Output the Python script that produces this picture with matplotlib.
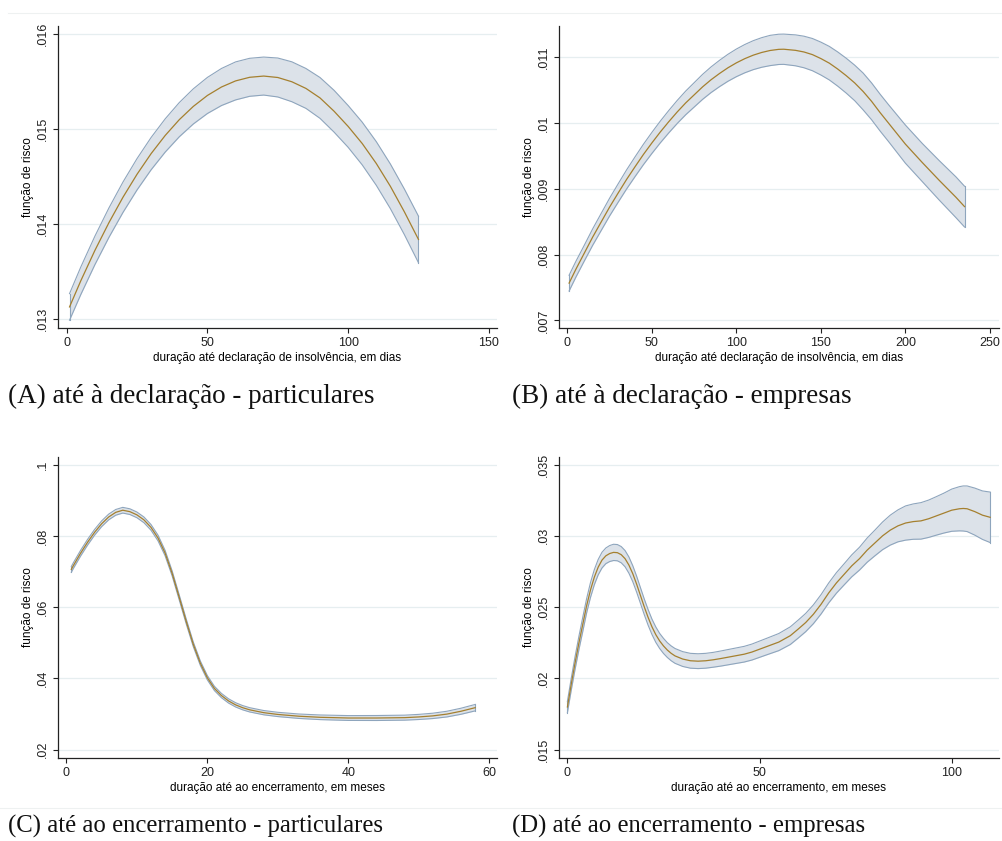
import matplotlib
matplotlib.use("Agg")
from matplotlib import pyplot as plt
from matplotlib.lines import Line2D
import numpy as np

# (A) ate a declaracao - particulares
a_x = [1, 5, 10, 15, 20, 25, 30, 35, 40, 45, 50, 55, 60, 65, 70, 75, 80, 85,
       90, 95, 100, 105, 110, 115, 120, 125]
a_mean = [.01313, .013405, .013724, .014017, .014285, .014527, .014744, .014935,
          .015101, .015241, .015356, .015445, .015509, .015547, .01556, .015545,
          .0155, .01543, .01533, .01519, .01503, .01485, .01464, .0144, .01413,
          .01384]
a_half = [.00014, .000145, .00015, .000155, .00016, .000165, .00017, .000175,
          .00018, .000185, .00019, .000195, .0002, .0002, .0002, .000205,
          .00021, .00021, .000215, .00022, .00022, .000225, .00023, .000235,
          .00024, .000245]
a_yticks = [.013, .014, .015, .016]
a_ylabels = [".013", ".014", ".015", ".016"]
a_xticks = [0, 50, 100, 150]

# (B) ate a declaracao - empresas
b_x = [1, 5, 10, 15, 20, 25, 30, 35, 40, 45, 50, 55, 60, 65, 70, 75, 80, 85,
       90, 95, 100, 105, 110, 115, 120, 125, 128, 135, 140, 145, 150, 155, 160,
       165, 170, 175, 180, 185, 190, 195, 200, 205, 210, 215, 220, 225, 230, 235]
b_mean = [.007567, .007777, .008023, .008269, .008497, .008724, .008935, .009142,
          .009335, .009523, .009698, .009865, .010021, .010169, .010306, .010428,
          .01055, .010658, .010753, .01084, .010915, .010979, .011032, .011073,
          .011103, .01112, .011122, .011105, .01108, .01104, .01098, .01091,
          .01082, .01072, .01061, .01048, .01033, .01016, .0100, .00984, .00968,
          .00954, .0094, .009265, .00913, .009, .00887, .00873]
b_half = [.00012, .00012, .00012, .000125, .00013, .000135, .00014, .000145,
          .00015, .000155, .00016, .000165, .00017, .000175, .00018, .000185,
          .00019, .000195, .0002, .000205, .00021, .000215, .00022, .000225,
          .00023, .00023, .00023, .000235, .00024, .000245, .00025, .000255,
          .00026, .000265, .00027, .00028, .00028, .00028, .00028, .000285,
          .00029, .00029, .00029, .000295, .0003, .000305, .00031, .00031]
b_yticks = [.007, .008, .009, .010, .011]
b_ylabels = [".007", ".008", ".009", ".01", ".011"]
b_xticks = [0, 50, 100, 150, 200, 250]

# (C) ate ao encerramento - particulares
c_x = [0.7, 1, 2, 3, 4, 5, 6, 7, 8, 9, 10, 11, 12, 13, 14, 15, 16, 17, 18, 19,
       20, 21, 22, 23, 24, 25, 26, 28, 30, 33, 36, 40, 44, 48, 50, 52, 54, 56, 58]
c_mean = [.0706, .0717, .0751, .0782, .0810, .0834, .0853, .0866, .0872, .0868,
          .0859, .0845, .0824, .0794, .0752, .0695, .0628, .0560, .0496, .0443,
          .0402, .0372, .0352, .0337, .0326, .0318, .0312, .0304, .0299, .0294,
          .0291, .0289, .0289, .0290, .0292, .0295, .0300, .0308, .0318]
c_half = [.0008, .0008, .0008, .0008, .0008, .0008, .0008, .0008, .0008, .0008,
          .0008, .0008, .0008, .0008, .00075, .0007, .0007, .00068, .00065,
          .00062, .0006, .0006, .0006, .0006, .0006, .0006, .0006, .0006, .0006,
          .00062, .00065, .00068, .0007, .0007, .00072, .00075, .0008, .00085,
          .0009]
c_yticks = [.02, .04, .06, .08, .1]
c_ylabels = [".02", ".04", ".06", ".08", ".1"]
c_xticks = [0, 20, 40, 60]

# (D) ate ao encerramento - empresas
d_x = [0, 1, 2, 3, 4, 5, 6, 7, 8, 9, 10, 11, 12, 13, 14, 15, 16, 17, 18, 19,
       20, 21, 22, 23, 24, 25, 26, 27, 28, 30, 32, 34, 36, 38, 40, 43, 46, 48,
       50, 52, 55, 58, 60, 62, 64, 66, 68, 70, 72, 74, 76, 78, 80, 82, 84, 86,
       88, 90, 92, 94, 96, 98, 100, 102, 103, 104, 106, 108, 110]
d_mean = [.0180, .0196, .0211, .0225, .0238, .0251, .0262, .0271, .0278, .0283,
          .0286, .02876, .02884, .02882, .02868, .02840, .02795, .02735, .02662,
          .02582, .02502, .02428, .02362, .02307, .02263, .02228, .02199, .02176,
          .02158, .02136, .02124, .02121, .02124, .02131, .02140, .02155, .02170,
          .02185, .02205, .02225, .02255, .0230, .02345, .02392, .0245, .0252,
          .0260, .0267, .0273, .0279, .0284, .0290, .0295, .0300, .0304, .0307,
          .0309, .0310, .03105, .0312, .0314, .0316, .0318, .0319, .03192,
          .0319, .0317, .03145, .0313]
d_half = [.0004, .00042, .00045, .00047, .0005, .0005, .00052, .00053, .00054,
          .00055, .00055, .00056, .00057, .00057, .00057, .00057, .00057, .00056,
          .00056, .00055, .00055, .00055, .00054, .00054, .00053, .00053, .00052,
          .00052, .00052, .00052, .00052, .00052, .00052, .00052, .00053, .00054,
          .00055, .00056, .00057, .00058, .0006, .00062, .00063, .00064, .00066,
          .00068, .0007, .00072, .00074, .00077, .0008, .00085, .0009, .00097,
          .00105, .00112, .0012, .00124, .00128, .00131, .00135, .0014, .00148,
          .00155, .00158, .0016, .00165, .0017, .00177]
d_yticks = [.015, .02, .025, .03, .035]
d_ylabels = [".015", ".02", ".025", ".03", ".035"]
d_xticks = [0, 50, 100]

ylab = "função de risco"
xlab_decl = "duração até declaração de insolvência, em dias"
xlab_enc = "duração até ao encerramento, em meses"
captions = ["(A) até à declaração - particulares",
            "(B) até à declaração - empresas",
            "(C) até ao encerramento - particulares",
            "(D) até ao encerramento - empresas"]

FILL = "#dce2e9"
EDGE = "#8ea5bd"
MEAN = "#a5802f"
GRID = "#e6eef0"

plt.rcParams['font.family'] = ['Liberation Sans', 'DejaVu Sans']


def draw_panel(ax, x, mean, half, xlim, ylim, xticks, yticks, ylabels, xlabel):
    x = np.array(x)
    mean = np.array(mean)
    half = np.array(half)
    lo = mean - half
    hi = mean + half
    ax.fill_between(x, lo, hi, color=FILL, lw=0, zorder=2)
    ax.plot(x, hi, color=EDGE, lw=0.8, zorder=3)
    ax.plot(x, lo, color=EDGE, lw=0.8, zorder=3)
    ax.plot([x[0], x[0]], [lo[0], hi[0]], color=EDGE, lw=0.8, zorder=3)
    ax.plot([x[-1], x[-1]], [lo[-1], hi[-1]], color=EDGE, lw=0.8, zorder=3)
    ax.plot(x, mean, color=MEAN, lw=0.9, zorder=4)
    ax.set_xlim(*xlim)
    ax.set_ylim(*ylim)
    ax.set_xticks(xticks)
    ax.set_yticks(yticks)
    ax.set_yticklabels(ylabels, rotation=90, va="center")
    ax.yaxis.grid(True, color=GRID, lw=0.9)
    ax.set_axisbelow(True)
    for s in ["top", "right"]:
        ax.spines[s].set_visible(False)
    for s in ["left", "bottom"]:
        ax.spines[s].set_linewidth(0.9)
        ax.spines[s].set_color("#222222")
    ax.tick_params(direction="out", length=3.5, width=0.8, labelsize=9,
                   pad=3, colors="#222222")
    ax.set_ylabel(ylab, fontsize=8.5, labelpad=2)
    ax.set_xlabel(xlabel, fontsize=8.5, labelpad=2)


W, H = 1003, 841
fig = plt.figure(figsize=(W / 100, H / 100), dpi=100)


def box(l, r, b, t):
    return [l / W, 1 - b / H, (r - l) / W, (b - t) / H]


axA = fig.add_axes(box(58, 497, 328, 26))
axB = fig.add_axes(box(559, 999, 328, 26))
axC = fig.add_axes(box(58, 497, 758, 457))
axD = fig.add_axes(box(559, 999, 758, 457))

draw_panel(axA, a_x, a_mean, a_half, (-3.1, 152.9), (.012908, .016087),
           a_xticks, a_yticks, a_ylabels, xlab_decl)
draw_panel(axB, b_x, b_mean, b_half, (-4.97, 255.4), (.006885, .011475),
           b_xticks, b_yticks, b_ylabels, xlab_decl)
draw_panel(axC, c_x, c_mean, c_half, (-1.19, 61.1), (.01768, .10213),
           c_xticks, c_yticks, c_ylabels, xlab_enc)
draw_panel(axD, d_x, d_mean, d_half, (-2.19, 112.3), (.01442, .03553),
           d_xticks, d_yticks, d_ylabels, xlab_enc)

cap_pos = [(8, 396, 19.5), (512, 396, 19.5), (8, 826, 17.8), (512, 826, 17.8)]
for (cx, cy, fs), txt in zip(cap_pos, captions):
    fig.text(cx / W, 1 - cy / H, txt, fontsize=fs, family="Liberation Serif",
             va="center", ha="left", color="#111111")

# faint frame lines of the original graph images
fig.add_artist(Line2D([8 / W, 1], [1 - 13 / H] * 2, color="#eef1f1", lw=0.8))
fig.add_artist(Line2D([0, 1], [1 - 808 / H] * 2, color="#eef1f1", lw=0.8))

fig.savefig("out.png", dpi=100, facecolor="white")
